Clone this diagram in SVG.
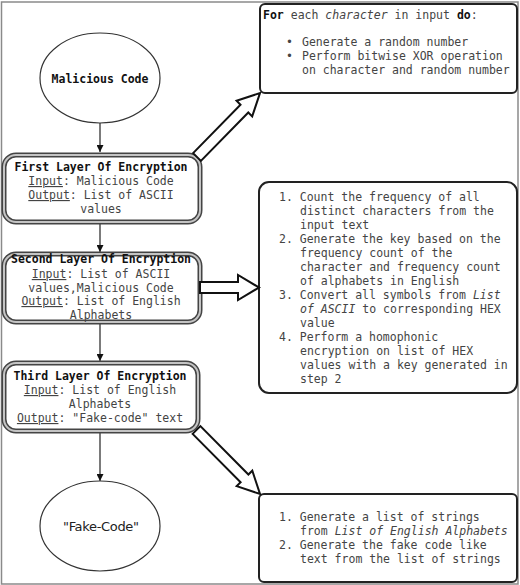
<svg xmlns="http://www.w3.org/2000/svg" width="520" height="585" viewBox="0 0 520 585">
<defs>
<marker id="ah" viewBox="0 0 10 10" refX="10" refY="5" markerWidth="7" markerHeight="7" markerUnits="userSpaceOnUse" orient="auto">
<path d="M0,0 L10,5 L0,10 z" fill="#111"/>
</marker>
<style>
.frame{fill:#fff;stroke:#8a8a8a;stroke-width:1.5}
.ell{fill:#fff;stroke:#333;stroke-width:1.2}
.dbl-o{fill:#fff;stroke:#444;stroke-width:5}
.dbl-i{fill:none;stroke:#c4c4c4;stroke-width:2}
.rbox{fill:#fff;stroke:#222;stroke-width:2}
.conn{stroke:#222;stroke-width:1.2;fill:none}
.big{fill:#fff;stroke:#111;stroke-width:2;stroke-linejoin:miter}
.mono{font-family:"DejaVu Sans Mono","Liberation Mono",monospace;font-size:11.5px;fill:#444}
.hdr{font-weight:bold;fill:#111}
.c{text-anchor:middle}
.u{text-decoration:underline}
.i{font-style:italic}
.b{font-weight:bold;fill:#111}
.sans{font-family:"DejaVu Sans","Liberation Sans",sans-serif;font-size:13px;fill:#222}
</style>
</defs>
<rect class="frame" x="1.5" y="2" width="516.5" height="582"/>

<g id="connectors">
<line class="conn" x1="100" y1="123" x2="100" y2="152" marker-end="url(#ah)"/>
<line class="conn" x1="100" y1="222" x2="100" y2="252" marker-end="url(#ah)"/>
<line class="conn" x1="100" y1="322" x2="100" y2="361" marker-end="url(#ah)"/>
<line class="conn" x1="100" y1="431" x2="100" y2="481" marker-end="url(#ah)"/>
</g>

<g id="malicious">
<ellipse class="ell" cx="100" cy="78" rx="60" ry="45"/>
<text class="mono hdr c" x="100" y="83">Malicious Code</text>
</g>

<g id="layer1">
<rect class="dbl-o" x="4" y="155" width="196" height="67" rx="12"/>
<rect class="dbl-i" x="4" y="155" width="196" height="67" rx="12"/>
<text class="mono c" x="101" y="171"><tspan class="hdr">First Layer Of Encryption</tspan></text>
<text class="mono c" x="101" y="185"><tspan class="u">Input</tspan>: Malicious Code</text>
<text class="mono c" x="101" y="199"><tspan class="u">Output</tspan>: List of ASCII</text>
<text class="mono c" x="101" y="213">values</text>
</g>

<g id="layer2">
<rect class="dbl-o" x="4" y="254" width="196" height="68" rx="12"/>
<rect class="dbl-i" x="4" y="254" width="196" height="68" rx="12"/>
<text class="mono c" x="101" y="263"><tspan class="hdr">Second Layer Of Encryption</tspan></text>
<text class="mono c" x="101" y="278"><tspan class="u">Input</tspan>: List of ASCII</text>
<text class="mono c" x="101" y="292">values,Malicious Code</text>
<text class="mono c" x="101" y="305"><tspan class="u">Output</tspan>: List of English</text>
<text class="mono c" x="101" y="319">Alphabets</text>
</g>

<g id="layer3">
<rect class="dbl-o" x="4" y="363" width="194" height="68" rx="12"/>
<rect class="dbl-i" x="4" y="363" width="194" height="68" rx="12"/>
<text class="mono c" x="100" y="380"><tspan class="hdr">Third Layer Of Encryption</tspan></text>
<text class="mono c" x="100" y="394"><tspan class="u">Input</tspan>: List of English</text>
<text class="mono c" x="100" y="408">Alphabets</text>
<text class="mono c" x="100" y="422"><tspan class="u">Output</tspan>: "Fake-code" text</text>
</g>

<g id="fakecode">
<ellipse class="ell" cx="100" cy="526" rx="60" ry="45"/>
<text class="sans c" x="101" y="531" textLength="76">"Fake-Code"</text>
</g>

<g id="step1">
<rect class="rbox" x="260" y="4" width="257" height="89" rx="5"/>
<text class="mono" x="263" y="19"><tspan class="b">For</tspan> each <tspan class="i">character</tspan> in input <tspan class="b">do</tspan>:</text>
<text class="mono" x="286" y="46">•</text>
<text class="mono" x="302" y="46">Generate a random number</text>
<text class="mono" x="286" y="60">•</text>
<text class="mono" x="302" y="60">Perform bitwise XOR operation</text>
<text class="mono" x="302" y="74">on character and random number</text>
</g>

<g id="step2">
<rect class="rbox" x="259" y="182" width="258" height="211" rx="10"/>
<text class="mono" x="279" y="201">1. Count the frequency of all</text>
<text class="mono" x="300" y="215">distinct characters from the</text>
<text class="mono" x="300" y="229">input text</text>
<text class="mono" x="279" y="243">2. Generate the key based on the</text>
<text class="mono" x="300" y="257">frequency count of the</text>
<text class="mono" x="300" y="271">character and frequency count</text>
<text class="mono" x="300" y="285">of alphabets in English</text>
<text class="mono" x="279" y="299">3. Convert all symbols from <tspan class="i">List</tspan></text>
<text class="mono" x="300" y="313"><tspan class="i">of ASCII</tspan> to corresponding HEX</text>
<text class="mono" x="300" y="327">value</text>
<text class="mono" x="279" y="341">4. Perform a homophonic</text>
<text class="mono" x="300" y="355">encryption on list of HEX</text>
<text class="mono" x="300" y="369">values with a key generated in</text>
<text class="mono" x="300" y="383">step 2</text>
</g>

<g id="step3">
<rect class="rbox" x="259" y="494" width="258" height="88" rx="5"/>
<text class="mono" x="279" y="521">1. Generate a list of strings</text>
<text class="mono" x="300" y="535">from <tspan class="i">List of English Alphabets</tspan></text>
<text class="mono" x="279" y="549">2. Generate the fake code like</text>
<text class="mono" x="300" y="563">text from the list of strings</text>
</g>

<g id="big-arrows">
<polygon class="big" points="193.1,153.1 240.5,104.7 236.6,100.8 260,93 252.2,116.4 248.3,112.5 200.9,160.9"/>
<polygon class="big" points="200,282 238,282 238,275 259,287.5 238,300 238,293 200,293"/>
<polygon class="big" points="192.6,433.9 240.6,482.3 236.7,486.1 260,494 252.3,470.7 248.4,474.5 200.4,426.1"/>
</g>
</svg>
